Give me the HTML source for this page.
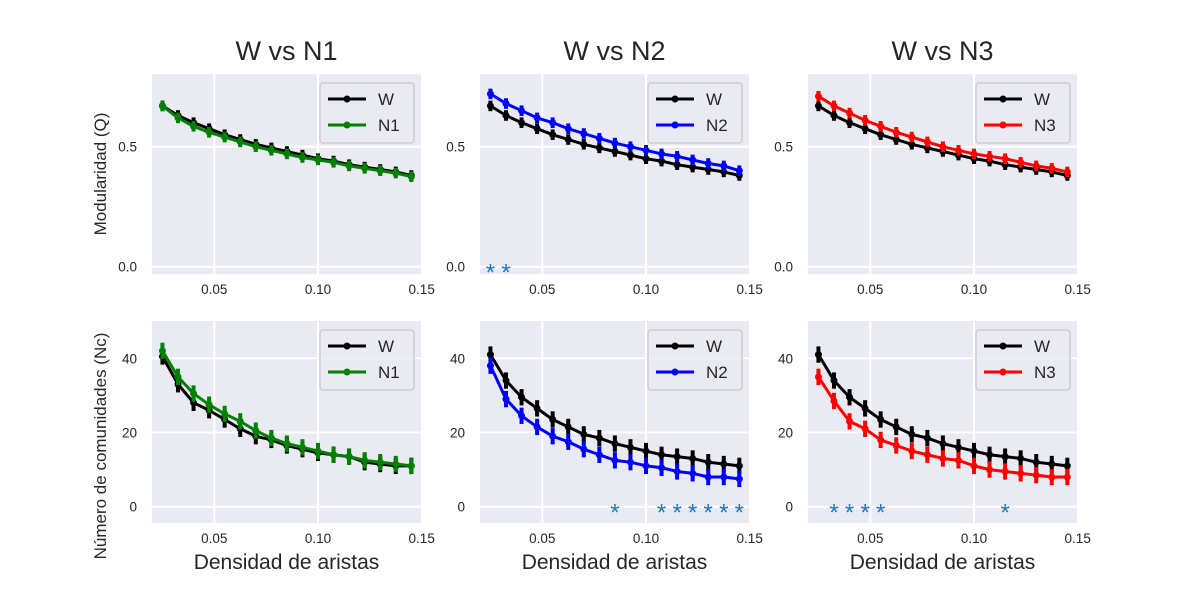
<!DOCTYPE html>
<html><head><meta charset="utf-8"><style>
body{margin:0;background:#fff}
svg{display:block;font-family:"Liberation Sans",sans-serif}
</style></head><body>
<svg id="fig" width="1200" height="600" viewBox="0 0 1200 600"></svg>
<script>
const xs=[0.025,0.0325,0.04,0.0475,0.055,0.0625,0.07,0.0775,0.085,0.0925,0.1,0.1075,0.115,0.1225,0.13,0.1375,0.145];
const qW=[0.67,0.63,0.60,0.575,0.55,0.53,0.51,0.495,0.48,0.465,0.45,0.44,0.425,0.415,0.405,0.395,0.38];
const qN1=[0.67,0.62,0.585,0.56,0.54,0.52,0.50,0.485,0.47,0.455,0.445,0.435,0.42,0.41,0.40,0.39,0.375];
const qN2=[0.72,0.68,0.65,0.62,0.60,0.575,0.555,0.535,0.515,0.50,0.485,0.47,0.46,0.445,0.43,0.42,0.40];
const qN3=[0.71,0.67,0.64,0.61,0.585,0.56,0.54,0.52,0.50,0.485,0.47,0.46,0.45,0.435,0.42,0.41,0.395];
const nW1=[40.5,33,28,26,23.5,21,19,18,16.5,15.5,14.5,14,13.5,12,11.5,11,11];
const nN1=[42,35,30.5,27.5,25,23,20.5,18.5,17,16,15,14,13.5,12.5,12,11.5,11];
const nW=[41,34,29.5,26.5,23.5,21.5,19.5,18.5,17,16,15,14,13.5,13,12,11.5,11];
const nN2=[38,29,24.5,21.5,19,17.5,15.5,14,12.5,12,11,10.5,9.5,9,8,8,7.5];
const nN3=[35,28.5,23,21,18,16.5,15,14,13,12.5,11,10,9.5,9,8.5,8,8];
const sigQ2=[0.025,0.0325];
const sigN2=[0.085,0.1075,0.115,0.1225,0.13,0.1375,0.145];
const sigN3=[0.0325,0.04,0.0475,0.055,0.115];
const titles=["W vs N1","W vs N2","W vs N3"];
const xTicks=[0.05,0.10,0.15];
const qTicks=[0.0,0.5];
const nTicks=[0,20,40];

const NS="http://www.w3.org/2000/svg";
const svg=document.getElementById('fig');
function mk(tag,attrs,parent){const e=document.createElementNS(NS,tag);for(const k in attrs)e.setAttribute(k,attrs[k]);(parent||svg).appendChild(e);return e;}
const L=[152,480,808], W=269;
function xScale(i){return v=>L[i]+62.3+(v-0.05)*2074;}
const rows=[{top:74,bot:274,ys:v=>266.7-v*240,ticks:qTicks,fmt:v=>v.toFixed(1),err:0.022},
            {top:321,bot:523,ys:v=>506.7-v*3.71,ticks:nTicks,fmt:v=>String(v),err:2.2}];
const cfg=[
 [[qW,'#000','W'],[qN1,'#008000','N1'],[]],
 [[qW,'#000','W'],[qN2,'#0000ff','N2'],sigQ2],
 [[qW,'#000','W'],[qN3,'#ff0000','N3'],[]],
 [[nW1,'#000','W'],[nN1,'#008000','N1'],[]],
 [[nW,'#000','W'],[nN2,'#0000ff','N2'],sigN2],
 [[nW,'#000','W'],[nN3,'#ff0000','N3'],sigN3]];
for(let r=0;r<2;r++)for(let c=0;c<3;c++){
 const R=rows[r], xsf=xScale(c), g=mk('g',{});
 
 
 mk('rect',{x:L[c],y:R.top,width:W,height:R.bot-R.top,fill:'#eaeaf2'},g);
 xTicks.forEach(t=>{const x=xsf(t);if(x<L[c]+W-1)mk('line',{x1:x,x2:x,y1:R.top,y2:R.bot,stroke:'#fff','stroke-width':2},g);
  const tx=mk('text',{x:x,y:R.bot+20,'text-anchor':'middle','font-size':13.5,fill:'#262626'},g);tx.textContent=t.toFixed(2);
  });
 R.ticks.forEach(t=>{const y=R.ys(t);mk('line',{x1:L[c],x2:L[c]+W,y1:y,y2:y,stroke:'#fff','stroke-width':2},g);
  const tx=mk('text',{x:L[c]-15,y:y+5,'text-anchor':'end','font-size':13.5,fill:'#262626'},g);tx.textContent=R.fmt(t);
  });
 const p=cfg[r*3+c];
 [p[0],p[1]].forEach(([vals,col,nm])=>{
  const s=mk('g',{},g);
  
  
  mk('polyline',{points:vals.map((v,i)=>xsf(xs[i])+','+R.ys(v)).join(' '),fill:'none',stroke:col,'stroke-width':3,'stroke-linejoin':'round'},s);
  vals.forEach((v,i)=>{const x=xsf(xs[i]);
   const e=mk('line',{x1:x,x2:x,y1:R.ys(v-R.err),y2:R.ys(v+R.err),stroke:col,'stroke-width':4},s);
   
   const d=mk('circle',{cx:x,cy:R.ys(v),r:3.5,fill:col},s);
   });
 });
 p[2].forEach(v=>{const t=mk('text',{x:xsf(v),y:R.ys(0)+14,'text-anchor':'middle','font-size':24,fill:'#1f77b4'},g);t.textContent='*';
  });
 const lx=L[c]+W-101, ly=R.top+9;
 const lg=mk('g',{},g);
 
 mk('rect',{x:lx,y:ly,width:94,height:60,rx:3,fill:'#eaeaf2',stroke:'#cccccc','stroke-width':1.5,'fill-opacity':0.8},lg);
 [p[0],p[1]].forEach(([v,col,nm],k)=>{const yy=ly+16+k*26;
  mk('line',{x1:lx+8,x2:lx+46,y1:yy,y2:yy,stroke:col,'stroke-width':3},lg);
  mk('circle',{cx:lx+27,cy:yy,r:3.5,fill:col},lg);
  const t=mk('text',{x:lx+58,y:yy+6,'font-size':17,fill:'#262626'},lg);t.textContent=nm;
  });
 if(r===0){const t=mk('text',{x:L[c]+W/2,y:60,'text-anchor':'middle','font-size':27,fill:'#262626'},g);t.textContent=titles[c];
  }
 else{const t=mk('text',{x:L[c]+W/2,y:569,'text-anchor':'middle','font-size':21,fill:'#262626'},g);t.textContent='Densidad de aristas';
  }
}
let t=mk('text',{x:0,y:0,'text-anchor':'middle','font-size':17,fill:'#262626',transform:'translate(106,174) rotate(-90)'});t.textContent='Modularidad (Q)';

t=mk('text',{x:0,y:0,'text-anchor':'middle','font-size':17,fill:'#262626',transform:'translate(106,446) rotate(-90)'});t.textContent='Número de comunidades (Nc)';

</script>
</body></html>
